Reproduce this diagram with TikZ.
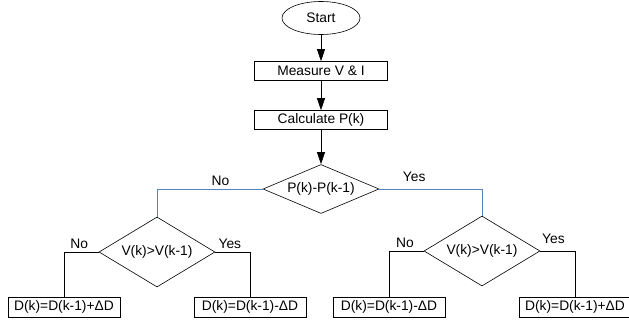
\documentclass[tikz,border=0pt]{standalone}
\usepackage{fontspec}
\setmainfont{Liberation Sans}
\usetikzlibrary{shapes.geometric, arrows.meta}

\definecolor{linkblue}{RGB}{84,130,196}

\tikzset{
  startstop/.style={ellipse, draw, minimum width=78pt, minimum height=33pt, inner sep=0pt},
  process/.style={rectangle, draw, minimum width=133pt, minimum height=19pt, inner sep=2pt},
  decision/.style={diamond, draw, aspect=2, inner sep=0pt, minimum width=116pt, minimum height=70pt},
  result/.style={rectangle, draw, minimum width=112pt, minimum height=20pt, inner sep=2pt},
  flow/.style={-{Triangle[length=12pt,width=8pt]}},
  branch/.style={draw=linkblue},
}

\begin{document}
\begin{tikzpicture}[x=1pt, y=1pt, line width=0.6pt, font=\fontsize{13.8}{16}\selectfont]
	\useasboundingbox (0,0) rectangle (629,-324);

	\node[startstop] (1) at (321,-18) {Start};
	\node[process] (2) [below of=1, node distance=53pt] {Measure V \& I};
	\node[process] (3) [below of=2, node distance=49pt] {Calculate P(k)};
	\node[decision, minimum height=49pt] (4) [below of=3, node distance=69pt] {P(k)-P(k-1)};
	\node[decision] (5) [below of=4, node distance=63pt, xshift=-164pt] {V(k)>V(k-1)};
	\node[decision] (6) [below of=4, node distance=62pt, xshift=161pt] {V(k)>V(k-1)};
	\node[result] (7) [below of=5, node distance=55pt, xshift=-93pt] {D(k)=D(k-1)+ΔD};
	\node[result] (8) [below of=5, node distance=55pt, xshift=93pt] {D(k)=D(k-1)-ΔD};
	\node[result] (9) [below of=6, node distance=56pt, xshift=-93pt] {D(k)=D(k-1)-ΔD};
	\node[result] (10) [below of=6, node distance=56pt, xshift=93pt] {D(k)=D(k-1)+ΔD};

	\path[flow]
	  (1) edge node {} (2)
	  (2) edge node {} (3)
	  (3) edge node {} (4);

	\draw[branch] (4.west) -| node[pos=0.2, above, black] {No} (5.north);
	\draw[branch] (4.east) -| node[pos=0.17, above, yshift=4pt, black] {Yes} (6.north);

	\draw (5.west) -| node[pos=0.28, above] {No} (7.north);
	\draw (5.east) -| node[pos=0.21, above] {Yes} (8.north);
	\draw (6.west) -| node[pos=0.27, above] {No} (9.north);
	\draw (6.east) -| node[pos=0.19, above, yshift=4pt] {Yes} (10.north);

\end{tikzpicture}
\end{document}
